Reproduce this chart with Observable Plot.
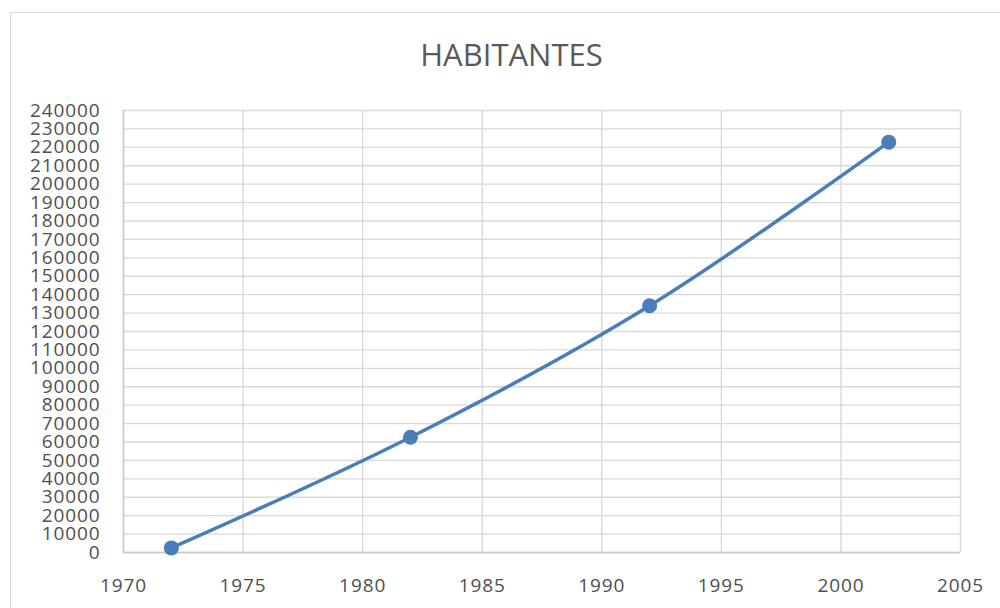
<!DOCTYPE html>
<html><head><meta charset="utf-8">
<script src="https://cdn.jsdelivr.net/npm/d3@7"></script>
<script src="https://cdn.jsdelivr.net/npm/@observablehq/plot@0.6"></script>
<style>
html,body{margin:0;padding:0;background:#fff;overflow:hidden;}
#wrap{position:relative;width:1000px;height:608px;overflow:hidden;}
#frame{position:absolute;left:10px;top:12px;width:1000px;height:700px;border:1.5px solid #d9d9d9;box-sizing:border-box;}
#title{position:absolute;left:0;width:1023px;top:39px;text-align:center;font-family:"Open Sans";font-size:31px;line-height:30px;color:#595959;}
#chart{position:absolute;left:0;top:0;}
#chart svg text{letter-spacing:0.9px;}
</style>
</head><body>
<div id="wrap"><div id="frame"></div><div id="title">HABITANTES</div><div id="chart"></div></div>
<script>
const years = [1972, 1982, 1992, 2002];
const habitantes = [2500, 62600, 134000, 222800];
const xTicks = [1970, 1975, 1980, 1985, 1990, 1995, 2000, 2005];
const yTicks = [0,10000,20000,30000,40000,50000,60000,70000,80000,90000,100000,110000,120000,130000,140000,150000,160000,170000,180000,190000,200000,210000,220000,230000,240000];

const data = years.map((y, i) => ({year: y, pop: habitantes[i]}));
const color = "#4a7ebb";

const chart = Plot.plot({
  width: 1000,
  height: 608,
  marginLeft: 123,
  marginRight: 40,
  marginTop: 110,
  marginBottom: 56,
  style: {fontFamily: "Open Sans", fontSize: "19px", color: "#4f4f4f", background: "transparent"},
  x: {domain: [1970, 2005], ticks: xTicks, tickSize: 0, tickPadding: 26, tickFormat: d => String(d), label: null},
  y: {domain: [0, 240000], ticks: yTicks, tickSize: 0, tickPadding: 23, tickFormat: d => String(d), label: null},
  marks: [
    Plot.ruleY(yTicks, {stroke: "#d9d9d9", strokeWidth: 1.4}),
    Plot.ruleX(xTicks, {stroke: "#d9d9d9", strokeWidth: 1.4}),
    Plot.ruleX([xTicks[0]], {stroke: "#c8c8c8", strokeWidth: 1.4}),
    Plot.ruleY([yTicks[0]], {stroke: "#c8c8c8", strokeWidth: 1.4}),
    Plot.line(data, {x: "year", y: "pop", curve: "catmull-rom", stroke: color, strokeWidth: 3.5}),
    Plot.dot(data, {x: "year", y: "pop", r: 7.5, fill: color, stroke: "none"})
  ]
});
document.getElementById("chart").appendChild(chart);
</script>
</body></html>
